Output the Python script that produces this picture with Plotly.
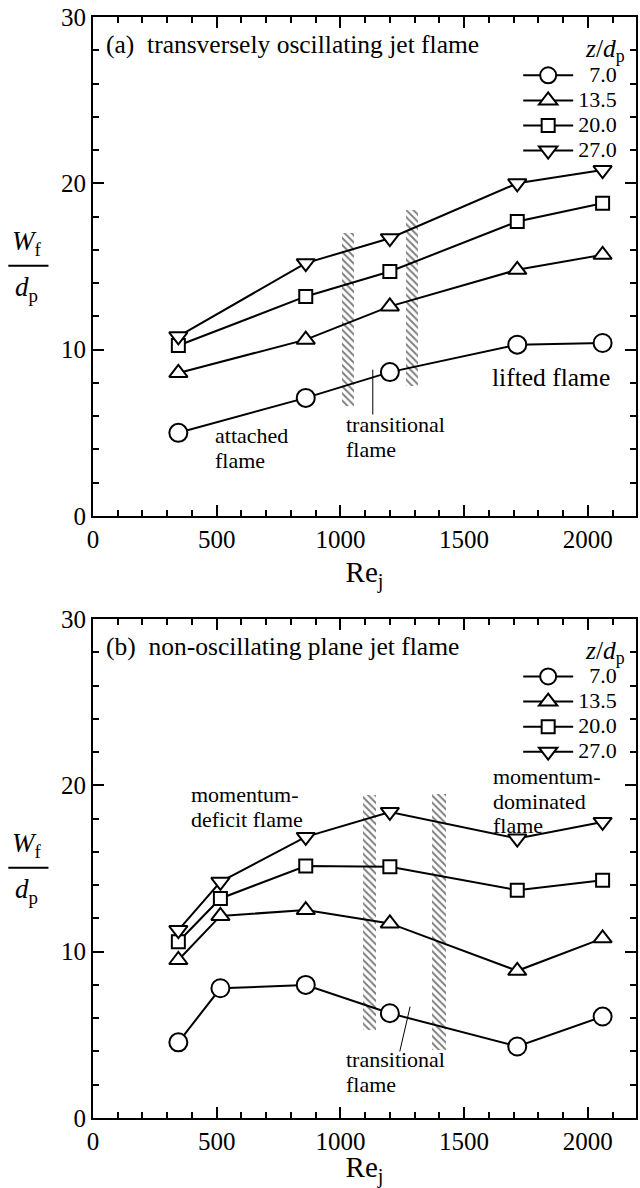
import plotly.graph_objects as go

# ---- data ----
series_labels = ["7.0", "13.5", "20.0", "27.0"]
series_symbols = ["circle", "triangle-up", "square", "triangle-down"]
series_sizes = [18, 16, 13, 16]

re_a = [345, 860, 1200, 1715, 2060]
a_70 = [5.0, 7.1, 8.65, 10.3, 10.4]
a_135 = [8.6, 10.6, 12.6, 14.8, 15.7]
a_200 = [10.25, 13.2, 14.7, 17.7, 18.8]
a_270 = [10.8, 15.2, 16.7, 20.0, 20.8]

re_b = [345, 515, 860, 1200, 1715, 2060]
b_70 = [4.55, 7.8, 8.0, 6.3, 4.3, 6.1]
b_135 = [9.5, 12.15, 12.5, 11.7, 8.85, 10.8]
b_200 = [10.6, 13.2, 15.15, 15.1, 13.7, 14.3]
b_270 = [11.3, 14.2, 16.9, 18.4, 16.8, 17.8]

# hatched transition bands: centre Re, width, bottom, top
band_a_x = [1030, 1290]
band_a_w = [50, 50]
band_a_lo = [6.6, 7.8]
band_a_hi = [17.0, 18.4]

band_b_x = [1117, 1397]
band_b_w = [53, 56]
band_b_lo = [5.3, 4.1]
band_b_hi = [19.4, 19.5]

FONT = "Liberation Serif, Times New Roman, serif"
TXT = 25.5
BLOCK = 22

fig = go.Figure()

# hatch bands (drawn first, under the lines)
for xs, ws, lo, hi, xa, ya in [(band_a_x, band_a_w, band_a_lo, band_a_hi, "x", "y"),
                                (band_b_x, band_b_w, band_b_lo, band_b_hi, "x2", "y2")]:
    fig.add_trace(go.Bar(
        x=xs, y=[h - l for h, l in zip(hi, lo)], base=lo, width=ws,
        xaxis=xa, yaxis=ya, showlegend=False, hoverinfo="skip",
        marker=dict(color="rgba(0,0,0,0)", line=dict(width=0),
                    pattern=dict(shape="\\", fgcolor="black", bgcolor="rgba(0,0,0,0)",
                                 size=5, solidity=0.4)),
    ))

def leg_name(lbl):
    pad = "\u00a0\u00a0" if len(lbl) == 3 else ""
    return '<span style="font-size:22px">' + pad + lbl + "</span>"

for vals, lbl, sym, sz in zip([a_70, a_135, a_200, a_270], series_labels, series_symbols, series_sizes):
    fig.add_trace(go.Scatter(
        x=re_a, y=vals, name=leg_name(lbl), mode="lines+markers", xaxis="x", yaxis="y",
        legend="legend",
        line=dict(color="black", width=2),
        marker=dict(symbol=sym, size=sz, color="white", line=dict(color="black", width=2)),
    ))
for vals, lbl, sym, sz in zip([b_70, b_135, b_200, b_270], series_labels, series_symbols, series_sizes):
    fig.add_trace(go.Scatter(
        x=re_b, y=vals, name=leg_name(lbl), mode="lines+markers", xaxis="x2", yaxis="y2",
        legend="legend2",
        line=dict(color="black", width=2),
        marker=dict(symbol=sym, size=sz, color="white", line=dict(color="black", width=2)),
    ))

def xax(anchor):
    return dict(
        range=[0, 2195], anchor=anchor, domain=[0, 1],
        tickmode="array", tickvals=[0, 500, 1000, 1500, 2000],
        ticktext=["0", "500", "1000", "1500", "2000"],
        ticks="inside", ticklen=11, tickwidth=2, tickcolor="black",
        minor=dict(ticks="inside", dtick=100, ticklen=6, tickwidth=2, tickcolor="black"),
        showline=True, linewidth=2, linecolor="black", mirror="allticks",
        showgrid=False, zeroline=False,
        tickfont=dict(family=FONT, size=25, color="black"),
        title=dict(text="Re<sub>j</sub>", font=dict(family=FONT, size=29, color="black"), standoff=10),
    )

def yax(anchor, domain):
    return dict(
        range=[0, 30], anchor=anchor, domain=domain,
        tickmode="array", tickvals=[0, 10, 20, 30], ticktext=["0", "10", "20", "30"],
        ticks="inside", ticklen=11, tickwidth=2, tickcolor="black",
        minor=dict(ticks="inside", dtick=2, ticklen=6, tickwidth=2, tickcolor="black"),
        showline=True, linewidth=2, linecolor="black", mirror="allticks",
        showgrid=False, zeroline=False,
        tickfont=dict(family=FONT, size=25, color="black"),
    )

dom_a = [0.5468, 1.0]
dom_b = [0.0, 0.4532]

annotations = []
shapes = []

def add_text(xref, yref, x, y, text, xanchor="left", yanchor="middle", align="left", size=TXT):
    annotations.append(dict(xref=xref, yref=yref, x=x, y=y, text=text, showarrow=False,
                            xanchor=xanchor, yanchor=yanchor, align=align,
                            font=dict(family=FONT, size=size, color="black")))

def add_block(xref, yref, x, y, lines):
    # base font 19 sets a tight line pitch; spans carry the visible size
    text = "<br>".join('<span style="font-size:%spx">%s</span>' % (BLOCK, t) for t in lines)
    add_text(xref, yref, x, y, text, size=19)

# panel a texts
add_text("x", "y", 45, 28.35, "(a)\u00a0\u00a0transversely oscillating jet flame")
add_text("x", "y", 2160, 28.0, "<i>z</i>/<i>d</i><sub>p</sub>", xanchor="right")
add_block("x", "y", 486, 4.06, ["attached", "flame"])
add_block("x", "y", 1013, 4.72, ["transitional", "flame"])
add_text("x", "y", 1603, 8.3, "lifted flame")
shapes.append(dict(type="line", xref="x", yref="y", x0=1131, x1=1131, y0=8.8, y1=6.1,
                   line=dict(color="black", width=1)))

# panel b texts
add_text("x2", "y2", 45, 28.35, "(b)\u00a0\u00a0non-oscillating plane jet flame")
add_text("x2", "y2", 2160, 28.0, "<i>z</i>/<i>d</i><sub>p</sub>", xanchor="right")
add_block("x2", "y2", 390, 18.67, ["momentum-", "deficit flame"])
add_block("x2", "y2", 1608, 19.06, ["momentum-", "dominated", "flame"])
add_block("x2", "y2", 1013, 2.74, ["transitional", "flame"])
shapes.append(dict(type="line", xref="x2", yref="y2", x0=1282, x1=1240, y0=6.7, y1=4.0,
                   line=dict(color="black", width=1)))

# y-axis fraction titles
for yref, frac_y in [("y", 15.05), ("y2", 15.05)]:
    add_text("paper", yref, -0.122, frac_y + 0.25, "<i>W</i><sub>f</sub>", xanchor="center",
             yanchor="bottom", align="center", size=27)
    add_text("paper", yref, -0.122, frac_y - 0.25, "<i>d</i><sub>p</sub>", xanchor="center",
             yanchor="top", align="center", size=27)
    shapes.append(dict(type="line", xref="paper", yref=yref, x0=-0.156, x1=-0.082,
                       y0=frac_y, y1=frac_y, line=dict(color="black", width=2)))

leg_common = dict(font=dict(family=FONT, size=17, color="black"), bgcolor="rgba(0,0,0,0)",
                  borderwidth=0, itemsizing="trace", tracegroupgap=0,
                  xanchor="left", yanchor="top", itemwidth=50)

fig.update_layout(
    width=640, height=1188,
    margin=dict(l=93, r=2, t=17, b=70),
    paper_bgcolor="white", plot_bgcolor="white",
    barmode="overlay", bargap=0,
    xaxis=xax("y"), yaxis=yax("x", dom_a),
    xaxis2=xax("y2"), yaxis2=yax("x2", dom_b),
    legend=dict(x=0.783, y=0.963, **leg_common),
    legend2=dict(x=0.783, y=0.417, **leg_common),
    annotations=annotations, shapes=shapes,
    font=dict(family=FONT, color="black"),
    showlegend=True,
)

fig.write_html("out.html")
